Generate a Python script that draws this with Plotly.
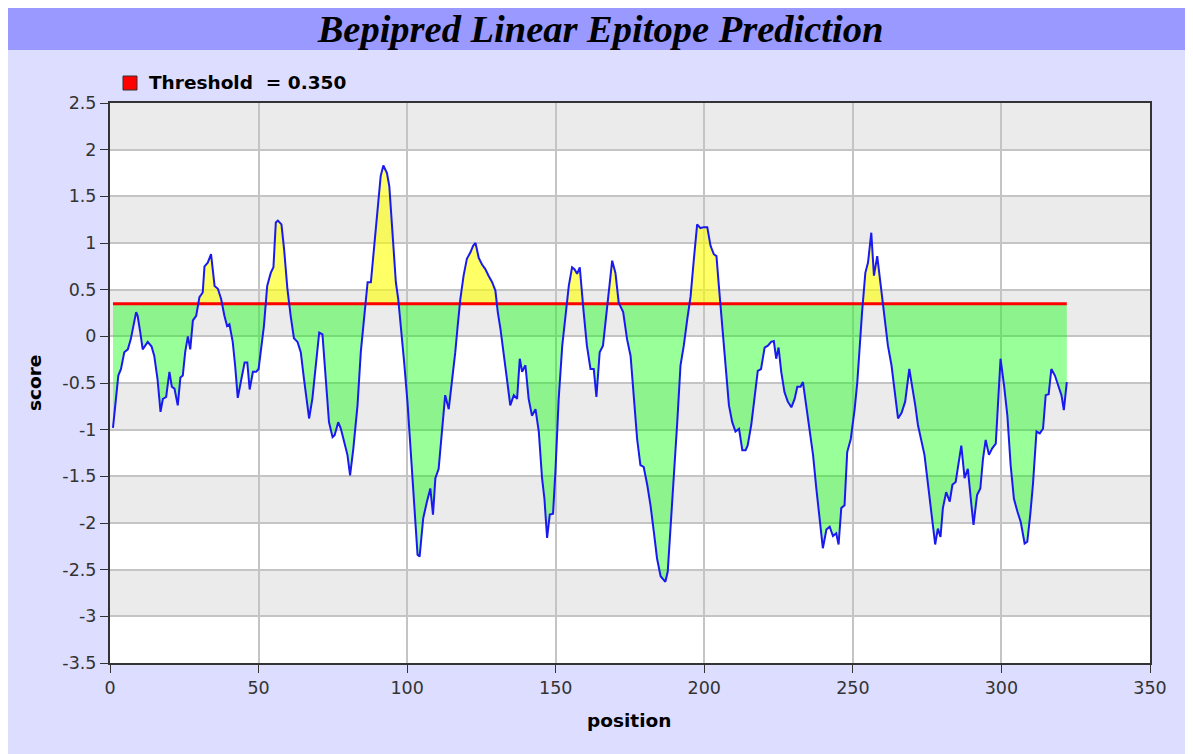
import plotly.graph_objects as go

# ---------------- data ----------------
position = [
    1, 2.8, 3.7, 4.8, 6, 7, 8.8, 9.3, 10.2, 11, 12.7, 14, 14.9, 16, 17, 17.8, 18.9, 20, 20.8, 21.7,
    22.8, 23.7, 24.5, 25.3, 26.2, 27, 27.9, 29, 30.1, 31.2, 31.8, 32.9, 34, 35.2, 36.3, 37.4, 38.5,
    39.4, 40.2, 41.3, 42.1, 43, 44.2, 45.3, 46.2, 47, 48.1, 49.2, 50,
    51.8, 52.9, 54.1, 55, 55.8, 56.5, 57.7, 58.6, 59.7, 60.8, 61.9, 63.1, 64.2, 65.3, 67, 68.1,
    69.2, 70.4, 71.5, 72.6, 73.7, 74.9, 75.6, 76.8, 77.7, 78.8, 79.9, 80.8, 81.9, 83.3, 84.4, 85.5,
    86.7, 87.8, 88.9, 90, 91.1, 92, 93.2, 94, 95.1, 96.2, 97, 97.9, 99, 100.1, 101.3, 102.4, 103.5,
    104.2,
    105.4, 106.6, 107.8, 108.7, 109.5, 110.6, 111.7, 112.8, 114, 115.1, 116.2, 117, 117.9, 119,
    120.1, 121.3, 122.2, 123, 124.1, 125.2, 126.3, 127.4, 128.6, 129.7, 130.5, 131.4, 132.5, 133.6,
    134.7, 135.9, 137, 137.9, 138.7, 139.8, 140.9, 142, 143.2, 144.3, 145.4, 146.2, 147.1, 148,
    149.1, 149.9, 151, 152.2, 153.3, 154.4, 155.5, 156.3, 157.2, 158.1,
    159.4, 160.5, 161.7, 162.8, 163.7, 164.8, 165.9, 167.1, 168.2, 169, 170.1, 171.2, 172.7, 174,
    175.2, 176.3, 177.4, 178.5, 179.6, 180.8, 181.9, 183, 184.1, 185.3, 186.9, 187.7, 188.6, 189.8,
    190.9, 192, 193.1, 194.3, 195.4, 196.5, 197.6, 198.7, 199.9, 201, 202.1, 203.2, 204.1, 204.9,
    206, 207.2, 208.3, 209.4, 210.5, 211.7, 212.8, 213.9,
    214.6, 215.8, 216.9, 218, 219.1, 220.3, 221.4, 222.5, 223.4, 224.2, 225, 225.9, 227, 228.1,
    229.3, 230.4, 231.3, 232.4, 233.2, 234.3, 235.4, 236.6, 237.7, 238.8, 239.9, 241.1, 242.2,
    243.3, 244.4, 245.2, 246.1, 247.2, 248.1, 249.3, 250.6, 251.5, 252.3, 253.1, 254.2, 255.1,
    256.2, 257.1, 258.2, 259.4, 260.5, 261.8, 263, 264.1, 265.2,
    266.4, 267.6, 269, 270, 271, 271.9, 273, 274.1, 275.3, 276.4, 277.7, 278.6, 279.5, 280.3,
    281.4, 282.6, 283.5, 284.6, 285.4, 286.5, 287.6, 288.7, 289.9, 290.6, 291.8, 292.9, 293.8,
    294.7, 295.8, 296.9, 298.1, 298.8, 299.7, 300.9, 302, 303.1, 304.2, 305.4, 306.5, 307.8, 308.7,
    309.7, 310.6, 311.8, 312.9, 314, 314.9, 315.9, 316.8, 318, 319.1, 320.2, 321, 322,
]
score = [
    -0.98, -0.42, -0.35, -0.17, -0.14, -0.03, 0.26, 0.22, 0.04, -0.14, -0.06, -0.11, -0.21, -0.46,
    -0.81, -0.67, -0.65, -0.38, -0.54, -0.56, -0.74, -0.44, -0.42, -0.17, 0.0, -0.14, 0.17, 0.22,
    0.42, 0.47, 0.75, 0.79, 0.88, 0.54, 0.51, 0.40, 0.22, 0.11, 0.13, -0.06, -0.31, -0.66, -0.46,
    -0.28, -0.28, -0.57, -0.38, -0.38, -0.35,
    0.11, 0.54, 0.68, 0.74, 1.22, 1.24, 1.2, 0.93, 0.51, 0.22, -0.02, -0.06, -0.17, -0.46, -0.88,
    -0.67, -0.31, 0.04, 0.02, -0.46, -0.92, -1.08, -1.06, -0.92, -0.99, -1.13, -1.27, -1.49, -1.2,
    -0.74, -0.17, 0.19, 0.58, 0.58, 0.97, 1.39, 1.72, 1.83, 1.75, 1.61, 1.11, 0.58, 0.40, 0.11,
    -0.28, -0.7, -1.27, -1.88, -2.34, -2.36,
    -1.95, -1.78, -1.63, -1.91, -1.52, -1.42, -1.02, -0.63, -0.78, -0.49, -0.17, 0.11, 0.40, 0.65,
    0.83, 0.90, 0.97, 1.0, 0.84, 0.77, 0.72, 0.65, 0.58, 0.49, 0.26, 0.08, -0.17, -0.46, -0.74,
    -0.63, -0.67, -0.24, -0.38, -0.31, -0.67, -0.85, -0.78, -1.02, -1.52, -1.74, -2.16, -1.91,
    -1.9, -1.45, -0.67, -0.1, 0.22, 0.54, 0.74, 0.72, 0.67, 0.74,
    0.26, -0.1, -0.35, -0.35, -0.65, -0.17, -0.1, 0.26, 0.61, 0.81, 0.68, 0.36, 0.26, -0.03,
    -0.21, -0.67, -1.1, -1.38, -1.4, -1.59, -1.81, -2.09, -2.38, -2.57, -2.63, -2.52, -2.09, -1.52,
    -0.92, -0.31, -0.1, 0.19, 0.43, 0.83, 1.2, 1.16, 1.17, 1.17, 0.97, 0.88, 0.86, 0.54,
    0.11, -0.31, -0.74, -0.92, -1.02, -0.99, -1.22, -1.22,
    -1.17, -0.95, -0.67, -0.37, -0.35, -0.12, -0.1, -0.06, -0.05, -0.24, -0.12, -0.38, -0.6, -0.7,
    -0.76, -0.67, -0.54, -0.54, -0.49, -0.74, -0.95, -1.27, -1.63, -1.95, -2.27, -2.07, -2.04,
    -2.14, -2.11, -2.23, -1.84, -1.81, -1.24, -1.1, -0.78, -0.49, -0.1, 0.26, 0.68, 0.79,
    1.11, 0.65, 0.86, 0.54, 0.19, -0.1, -0.31, -0.63, -0.88,
    -0.82, -0.7, -0.35, -0.53, -0.74, -0.95, -1.1, -1.27, -1.59, -1.91, -2.23, -2.06, -2.15, -1.84,
    -1.67, -1.77, -1.59, -1.56, -1.38, -1.17, -1.52, -1.42, -1.81, -2.02, -1.7, -1.63, -1.31,
    -1.11, -1.27, -1.2, -1.15, -0.74, -0.24, -0.53, -0.85, -1.38, -1.74, -1.88, -1.99, -2.22, -2.2,
    -1.91, -1.59, -1.02, -1.04, -0.99, -0.63, -0.62, -0.35, -0.42, -0.53, -0.63, -0.79, -0.49,
]
threshold = 0.350
x_ticks = [0, 50, 100, 150, 200, 250, 300, 350]
y_ticks = [2.5, 2, 1.5, 1, 0.5, 0, -0.5, -1, -1.5, -2, -2.5, -3, -3.5]
y_tick_labels = ["2.5", "2", "1.5", "1", "0.5", "0", "-0.5", "-1", "-1.5", "-2", "-2.5", "-3", "-3.5"]

# ---------------- split the curve at the threshold ----------------
xs, ys = [], []
for i in range(len(position)):
    if i > 0:
        y0, y1 = score[i - 1], score[i]
        if (y0 - threshold) * (y1 - threshold) < 0:
            t = (threshold - y0) / (y1 - y0)
            xs.append(position[i - 1] + t * (position[i] - position[i - 1]))
            ys.append(threshold)
    xs.append(position[i])
    ys.append(score[i])
lower = [min(v, threshold) for v in ys]
upper = [max(v, threshold) for v in ys]
thr_x = [position[0], position[-1]]
thr_y = [threshold, threshold]

fig = go.Figure()
fig.add_trace(go.Scatter(x=thr_x, y=thr_y, mode="lines", line=dict(width=0), hoverinfo="skip", showlegend=False))
fig.add_trace(go.Scatter(x=xs, y=lower, mode="lines", line=dict(width=0), fill="tonexty",
                         fillcolor="rgba(0,255,0,0.40)", hoverinfo="skip", showlegend=False))
fig.add_trace(go.Scatter(x=thr_x, y=thr_y, mode="lines", line=dict(width=0), hoverinfo="skip", showlegend=False))
fig.add_trace(go.Scatter(x=xs, y=upper, mode="lines", line=dict(width=0), fill="tonexty",
                         fillcolor="rgba(255,255,0,0.60)", hoverinfo="skip", showlegend=False))
fig.add_trace(go.Scatter(x=thr_x, y=thr_y, mode="lines", line=dict(color="#FF0000", width=3),
                         name="Threshold", showlegend=False))
fig.add_trace(go.Scatter(x=position, y=score, mode="lines", line=dict(color="#1A1AF0", width=2),
                         name="score", showlegend=False))

# ---------------- layout geometry (figure pixels; page adds an 8px body margin) ----------------
W, H = 1185, 746
L, R, T, B = 102, 43, 95, 91
PW, PH = W - L - R, H - T - B


def px(xp):
    return (xp - L) / PW


def py(yp):
    return (H - B - yp) / PH


shapes = []
# alternating horizontal bands
band_edges = sorted(y_ticks)
for k in range(len(band_edges) - 1):
    if (len(band_edges) - 2 - k) % 2 == 0:
        shapes.append(dict(type="rect", xref="paper", yref="y", x0=0, x1=1,
                           y0=band_edges[k], y1=band_edges[k + 1],
                           fillcolor="#EBEBEB", line=dict(width=0), layer="below"))
# title bar
shapes.append(dict(type="rect", xref="paper", yref="paper", x0=px(0), x1=px(W), y0=py(0), y1=py(42),
                   fillcolor="#9999FF", line=dict(width=0), layer="below"))
# legend swatch
shapes.append(dict(type="rect", xref="paper", yref="paper", x0=px(115), x1=px(129), y0=py(82), y1=py(68),
                   fillcolor="#FF0000", line=dict(color="#333333", width=1)))

bold_font = dict(family="DejaVu Sans", size=18.5, color="black", weight="bold")
annotations = [
    dict(text="Threshold  = " + f"{threshold:.3f}", xref="paper", yref="paper", x=px(139), y=py(75),
         xanchor="left", yanchor="middle", showarrow=False, font=bold_font),
    dict(text="score", xref="paper", yref="paper", x=px(26), y=py(375), textangle=-90,
         xanchor="center", yanchor="middle", showarrow=False, font=bold_font),
    dict(text="position", xref="paper", yref="paper", x=px(621), y=py(712),
         xanchor="center", yanchor="middle", showarrow=False, font=bold_font),
]

axis_common = dict(showline=True, linecolor="#333333", linewidth=2, mirror=True,
                   ticks="outside", ticklen=8, tickcolor="#333333", tickwidth=1,
                   showgrid=True, gridcolor="#C4C4C4", gridwidth=1.5, zeroline=False,
                   tickfont=dict(family="DejaVu Sans", size=17.5, color="#333333"))

fig.update_layout(
    width=W, height=H, autosize=False,
    margin=dict(l=L, r=R, t=T, b=B, autoexpand=False),
    paper_bgcolor="#DDDDFF", plot_bgcolor="white",
    title=dict(text="Bepipred Linear Epitope Prediction", x=0.5, xanchor="center",
               y=1 - 21 / H, yanchor="middle", yref="container",
               font=dict(family="Liberation Serif", size=38.5, color="black", weight="bold", style="italic")),
    xaxis=dict(range=[0, 350], tickvals=x_ticks, ticktext=[str(v) for v in x_ticks], **axis_common),
    yaxis=dict(range=[-3.5, 2.5], tickvals=y_ticks, ticktext=y_tick_labels, **axis_common),
    shapes=shapes, annotations=annotations, showlegend=False,
)

fig.write_html("out.html")
